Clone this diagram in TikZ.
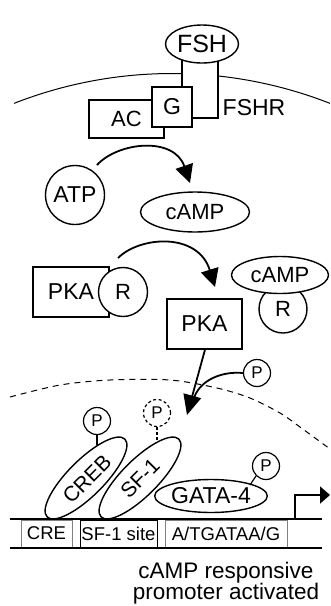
\documentclass[tikz,border=0pt]{standalone}
\usepackage{fontspec}
\setmainfont{Liberation Sans}
\usetikzlibrary{shapes.geometric,arrows.meta}
\begin{document}
\begin{tikzpicture}[x=1pt,y=-1pt,
  line width=1.4pt,
  every node/.style={font=\fontsize{23}{25}\selectfont, inner sep=0pt},
  box/.style={draw, rectangle, fill=white},
  circ/.style={draw, circle, fill=white},
  ell/.style={draw, ellipse},
  pcirc/.style={draw, circle, fill=white, minimum size=27pt, font=\fontsize{17}{18}\selectfont, line width=1.2pt},
  tf/.style={draw, ellipse, minimum width=110pt, minimum height=36pt, rotate=45},
  tflabel/.style={rotate=45, font=\fontsize{21}{22}\selectfont},
  arr/.style={-{Triangle[length=18pt,width=18pt]}, line width=1.8pt},
  arrbig/.style={-{Triangle[length=20pt,width=18pt]}, line width=1.8pt},
  site/.style={draw=gray, line width=0.8pt, minimum height=27pt, font=\fontsize{18.5}{20}\selectfont},
  dna/.style={line width=2.6pt},
]
\useasboundingbox (0,0) rectangle (330,606);

% cell membrane
\draw[line width=1pt] plot[domain=-111.4:-88.7, samples=50] ({172+433*cos(\x)}, {506.5+433*sin(\x)});
\draw[line width=1pt] plot[domain=-83.9:-68.6, samples=50] ({172+433*cos(\x)}, {506.5+433*sin(\x)});

% receptor
\coordinate (rl) at (182,55);
\coordinate (rlb) at (182,88);
\coordinate (rr) at (218,55);
\coordinate (rrb) at (218,118);
\coordinate (rgb) at (192,118);
\draw[line width=1.6pt] (rl) -- (rlb);
\draw[line width=1.6pt] (rr) -- (rrb) -- (rgb);
\node[ell, fill=white, minimum width=73pt, minimum height=38pt, font=\fontsize{25}{26}\selectfont] (FSH) at (202,44) {FSH};
\node[box, minimum width=75pt, minimum height=38pt, font=\fontsize{22}{24}\selectfont] (AC) at (126.5,119) {AC};
\node[box, minimum size=40pt] (G) at (172,107) {G};
\node[anchor=west] (FSHR) at (222,108) {FSHR};

% ATP -> cAMP
\node[circ, minimum size=59pt] (ATP) at (75,195) {ATP};
\node[ell, minimum width=109pt, minimum height=40pt, font=\fontsize{22}{24}\selectfont] (cAMP1) at (195,212) {cAMP};
\coordinate (a1s) at (97,165);
\coordinate (a1e) at (190,183);
\draw[arr] (a1s) .. controls (118,142) and (174,136) .. (a1e);

% PKA activation
\node[box, minimum width=76pt, minimum height=50pt] (PKA1) at (71,292) {PKA};
\node[circ, minimum size=49pt, font=\fontsize{22}{24}\selectfont] (R1) at (123,292) {R};
\node[box, minimum width=75pt, minimum height=50pt] (PKA2) at (204.5,324) {PKA};
\node[circ, minimum size=48pt, font=\fontsize{22}{24}\selectfont] (R2) at (283,309) {R};
\node[ell, fill=white, minimum width=97pt, minimum height=37pt, font=\fontsize{22}{24}\selectfont] (cAMP2) at (280,275) {cAMP};
\coordinate (a2s) at (118,258);
\coordinate (a2e) at (215,287);
\draw[arr] (a2s) .. controls (140,236) and (198,232) .. (a2e);

% nuclear membrane
\draw[line width=1pt, dash pattern=on 6pt off 5pt] plot[smooth] coordinates {(10,397) (60,385) (110,380) (170,380) (217,388) (250,398) (280,413) (300,427) (330,449)};

% PKA -> nucleus
\coordinate (a3e) at (187,415);
\node[pcirc] (P1) at (257,373) {P};
\coordinate (a3m) at (194,398);
\draw[line width=1.8pt] (P1.west) .. controls (222,371) and (200,380) .. (a3m);
\draw[arrbig] ([xshift=0.5pt]PKA2.south) -- (a3e);

% transcription factors
\node[tf] (CREB) at (86,478) {};
\node[tflabel] (CREBt) at (87,479) {CREB};
\node[tf] (SF1) at (140,478) {};
\node[tflabel] (SF1t) at (140,478) {SF-1};
\node[ell, minimum width=108pt, minimum height=33pt] (GATA) at (211,496) {GATA-4};

\node[pcirc] (Pc) at (97,421) {P};
\coordinate (pcs) at (97,445);
\draw[line width=1.2pt] (Pc.south) -- (pcs);
\node[pcirc, dashed, dash pattern=on 3pt off 2.5pt] (Pd) at (157,413) {P};
\coordinate (pds) at (157,441);
\draw[line width=1.2pt, dash pattern=on 3pt off 2pt] (Pd.south) -- (pds);
\node[pcirc] (Pg) at (266,466) {P};
\coordinate (pgs) at (250,485);
\draw[line width=1.2pt] (Pg.225) -- (pgs);

% DNA
\coordinate (d1) at (10,519);
\coordinate (d2) at (322,519);
\coordinate (d3) at (10,548);
\coordinate (d4) at (322,548);
\node[site, minimum width=51pt] (CRE) at (46.5,533.5) {CRE};
\node[site, draw=black, line width=1pt, minimum width=77pt] (SFsite) at (118.5,533.5) {SF-1 site};
\node[site, minimum width=122pt] (GATAsite) at (226,533.5) {A/TGATAA/G};
\draw[dna] (d1) -- (d2);
\draw[dna] (d3) -- (d4);

% transcription start
\coordinate (ts) at (295,518);
\coordinate (te) at (330,495);
\draw[line width=1.8pt, -{Triangle[length=10pt,width=17pt]}] (ts) |- (te);

% caption
\node[align=center, font=\fontsize{22.5}{21}\selectfont] (cap) at (226,583) {cAMP responsive\\promoter activated};
\end{tikzpicture}
\end{document}
